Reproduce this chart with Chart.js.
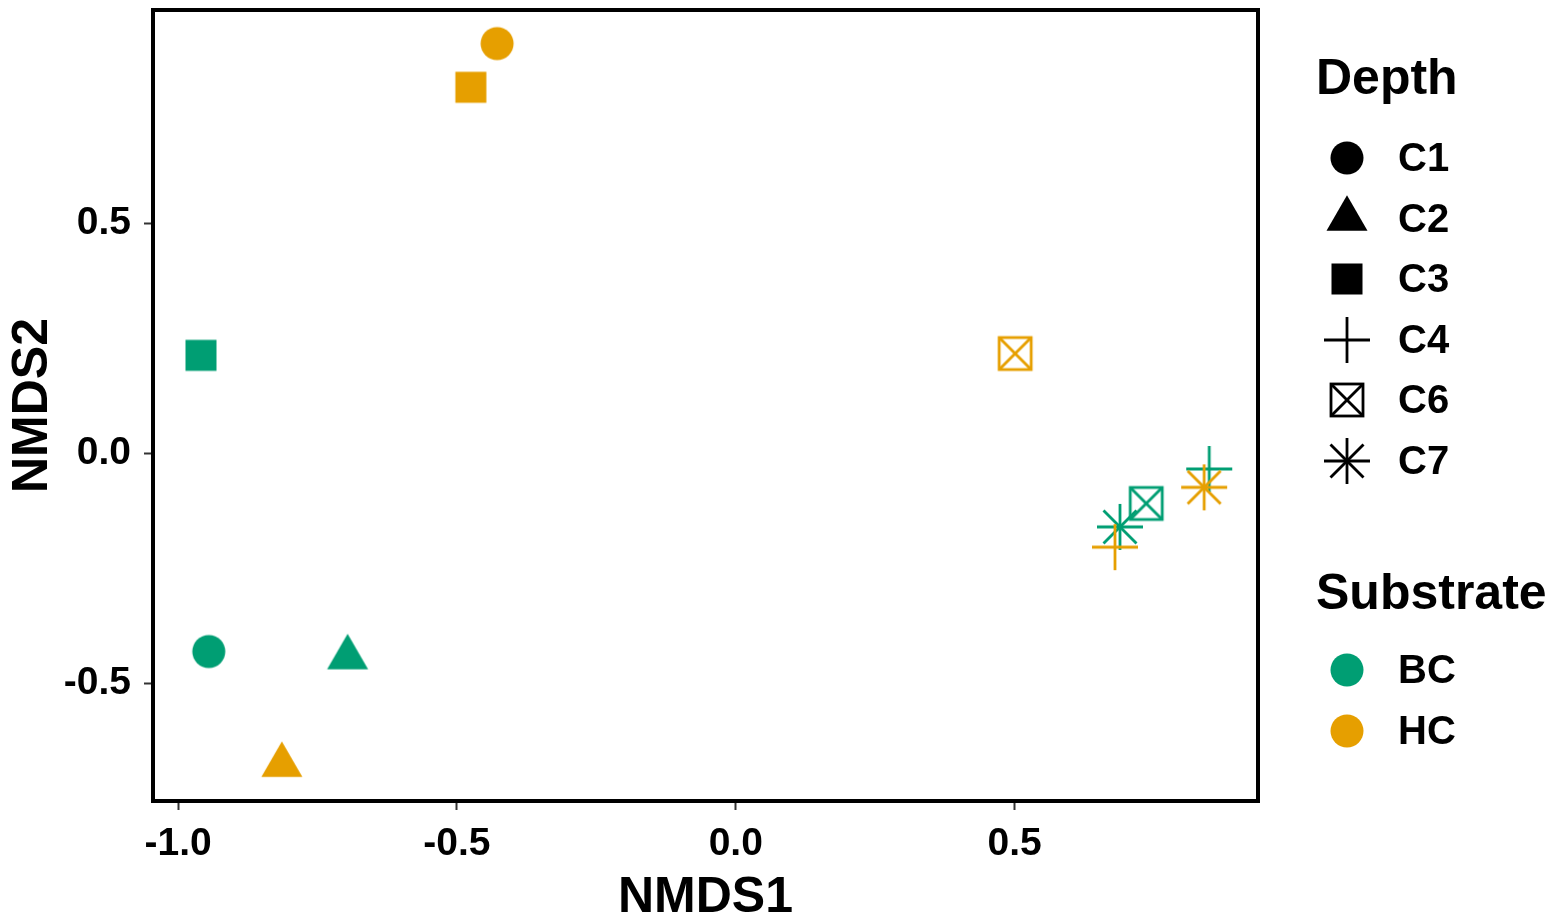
<!DOCTYPE html>
<html>
<head>
<meta charset="utf-8">
<title>NMDS</title>
<script src="https://cdn.jsdelivr.net/npm/chart.js@4.4.1/dist/chart.umd.min.js"></script>
<style>
  html, body { margin: 0; padding: 0; background: #fff; }
  #wrap { width: 1559px; height: 917px; position: relative; }
</style>
</head>
<body>
<div id="wrap"><canvas id="nmds"></canvas></div>
<script>
// --- DATA ---
const depthLevels = ["C1", "C2", "C3", "C4", "C6", "C7"];
const substrateLevels = ["BC", "HC"];
const substrateColors = ["#009E73", "#E69F00"];

// one value per depth level, same order as depthLevels
const bcNMDS1 = [-0.945, -0.696, -0.959, 0.849, 0.736, 0.689];
const bcNMDS2 = [-0.431, -0.444, 0.213, -0.034, -0.109, -0.160];
const hcNMDS1 = [-0.428, -0.814, -0.475, 0.680, 0.501, 0.840];
const hcNMDS2 = [0.891, -0.678, 0.796, -0.204, 0.217, -0.074];

const xTicks = [-1.0, -0.5, 0.0, 0.5];
const yTicks = [-0.5, 0.0, 0.5];
const xRange = [-1.045, 0.9365];
const yRange = [-0.756, 0.964];

const FONT = "'Liberation Sans', Arial, sans-serif";

// --- MARKERS (ggplot-like shapes drawn on small canvases) ---
function marker(shape, color) {
    const c = document.createElement("canvas");
    c.width = 52; c.height = 52;
    const g = c.getContext("2d");
    const m = 26;
    g.fillStyle = color;
    g.strokeStyle = color;
    g.lineWidth = 2.8;
    const line = (x1, y1, x2, y2) => { g.beginPath(); g.moveTo(x1, y1); g.lineTo(x2, y2); g.stroke(); };

    if (shape === "C1") {
        g.beginPath(); g.arc(m, m, 16.5, 0, Math.PI * 2); g.fill();
    } else if (shape === "C2") {
        const s = 41, h = s * Math.sqrt(3) / 2;
        g.beginPath();
        g.moveTo(m, m - h * 2 / 3);
        g.lineTo(m + s / 2, m + h / 3);
        g.lineTo(m - s / 2, m + h / 3);
        g.closePath(); g.fill();
    } else if (shape === "C3") {
        g.fillRect(m - 15.5, m - 15.5, 31, 31);
    } else if (shape === "C4") {
        line(m - 23, m, m + 23, m);
        line(m, m - 23, m, m + 23);
    } else if (shape === "C6") {
        g.strokeRect(m - 16, m - 16, 32, 32);
        line(m - 16, m - 16, m + 16, m + 16);
        line(m + 16, m - 16, m - 16, m + 16);
    } else if (shape === "C7") {
        line(m - 23, m, m + 23, m);
        line(m, m - 23, m, m + 23);
        line(m - 16.5, m - 16.5, m + 16.5, m + 16.5);
        line(m + 16.5, m - 16.5, m - 16.5, m + 16.5);
    }
    return c;
}

// --- PLUGINS ---
const panelBorder = {
    id: "panelBorder",
    afterDatasetsDraw(chart) {
        const { ctx, chartArea: a } = chart;
        ctx.save();
        ctx.strokeStyle = "#000";
        ctx.lineWidth = 4;
        ctx.strokeRect(a.left, a.top, a.right - a.left, a.bottom - a.top);
        ctx.restore();
    }
};

const twoLegends = {
    id: "twoLegends",
    afterDraw(chart) {
        const ctx = chart.ctx;
        ctx.save();
        ctx.fillStyle = "#000";
        ctx.textAlign = "left";
        ctx.textBaseline = "middle";

        ctx.font = "bold 50px " + FONT;
        ctx.fillText("Depth", 1316, 80);
        ctx.font = "bold 40px " + FONT;
        depthLevels.forEach((d, i) => {
            const y = 158 + i * 60.6;
            ctx.drawImage(marker(d, "#000"), 1347 - 26, Math.round(y) - 26);
            ctx.fillText(d, 1398, y + 2);
        });

        ctx.font = "bold 50px " + FONT;
        ctx.fillText("Substrate", 1316, 595);
        ctx.font = "bold 40px " + FONT;
        substrateLevels.forEach((s, i) => {
            const y = 670 + i * 61;
            ctx.drawImage(marker("C1", substrateColors[i]), 1347 - 26, Math.round(y) - 26);
            ctx.fillText(s, 1398, y + 2);
        });
        ctx.restore();
    }
};

// --- CHART ---
const toPoints = (xs, ys) => xs.map((x, i) => ({ x, y: ys[i] }));

const datasets = [
    { label: "HC", data: toPoints(hcNMDS1, hcNMDS2), color: substrateColors[1] },
    { label: "BC", data: toPoints(bcNMDS1, bcNMDS2), color: substrateColors[0] }
].map(d => ({
    label: d.label,
    data: d.data,
    pointStyle: depthLevels.map(lv => marker(lv, d.color)),
    backgroundColor: d.color,
    borderColor: d.color,
    showLine: false,
    clip: false
}));

const tickGrid = {
    display: true,
    drawOnChartArea: false,
    drawTicks: true,
    tickLength: 9,
    tickWidth: 2,
    tickColor: "#333"
};

new Chart(document.getElementById("nmds"), {
    type: "scatter",
    data: { datasets },
    options: {
        responsive: true,
        maintainAspectRatio: false,
        animation: false,
        layout: { padding: { top: 10, right: 301, left: 0, bottom: 0 } },
        plugins: { legend: { display: false }, tooltip: { enabled: false } },
        scales: {
            x: {
                type: "linear",
                min: xRange[0],
                max: xRange[1],
                afterBuildTicks: s => { s.ticks = xTicks.map(v => ({ value: v })); },
                afterFit: s => { s.height = 116; s.paddingLeft = 0; s.paddingRight = 0; },
                grid: tickGrid,
                border: { display: false },
                ticks: {
                    color: "#000",
                    padding: 11,
                    font: { family: FONT, size: 39, weight: "bold" },
                    callback: v => Number(v).toFixed(1)
                },
                title: {
                    display: true,
                    text: "NMDS1",
                    color: "#000",
                    padding: 0,
                    font: { family: FONT, size: 50, weight: "bold", lineHeight: 0.76 }
                }
            },
            y: {
                type: "linear",
                min: yRange[0],
                max: yRange[1],
                afterBuildTicks: s => { s.ticks = yTicks.map(v => ({ value: v })); },
                afterFit: s => { s.width = 153; s.paddingTop = 0; s.paddingBottom = 0; },
                grid: tickGrid,
                border: { display: false },
                ticks: {
                    color: "#000",
                    padding: 13,
                    font: { family: FONT, size: 39, weight: "bold" },
                    callback: v => Number(v).toFixed(1)
                },
                title: {
                    display: true,
                    text: "NMDS2",
                    color: "#000",
                    padding: { top: 8, bottom: 0 },
                    font: { family: FONT, size: 50, weight: "bold", lineHeight: 1 }
                }
            }
        }
    },
    plugins: [panelBorder, twoLegends]
});
</script>
</body>
</html>
